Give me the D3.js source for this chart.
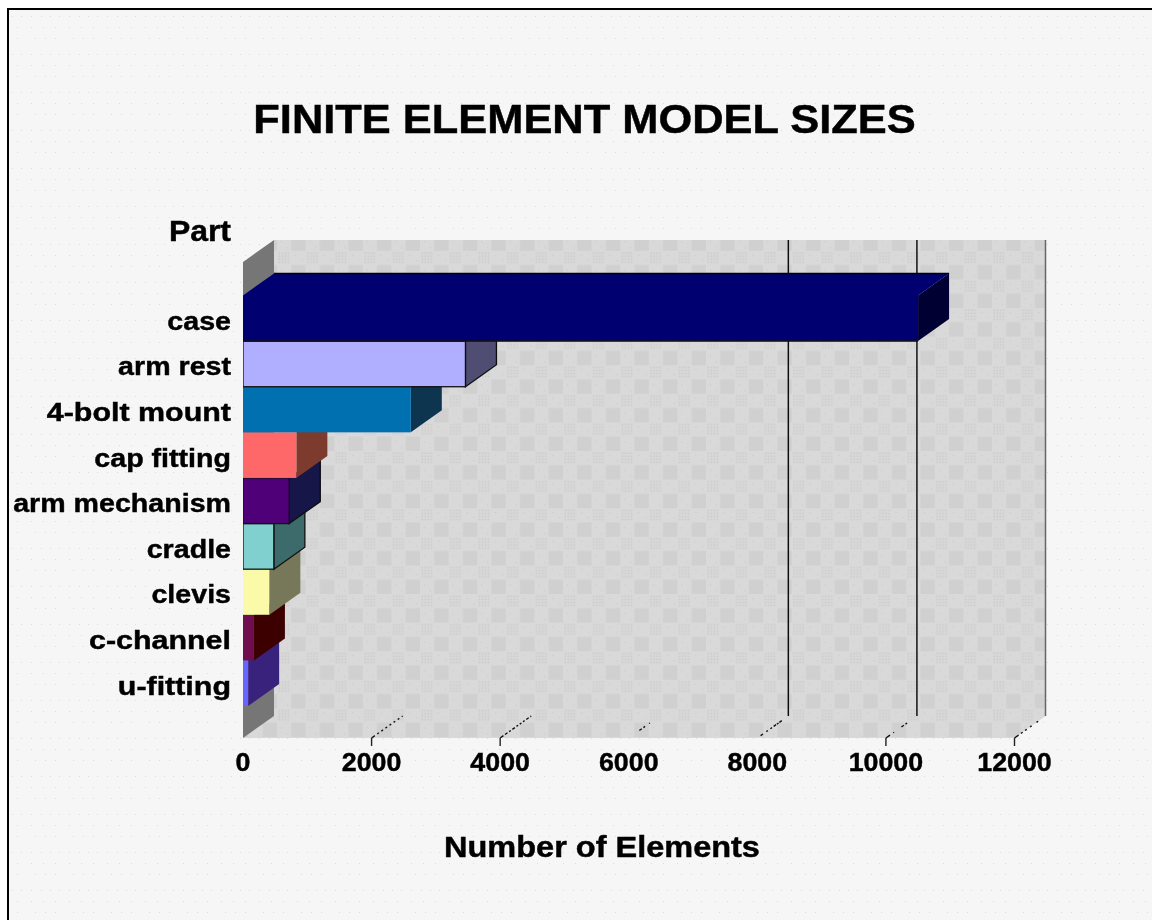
<!DOCTYPE html>
<html><head><meta charset="utf-8">
<style>html,body{margin:0;padding:0;background:#fff}svg{display:block}text{font-family:"Liberation Sans",Arial,sans-serif;font-weight:700;fill:#000;stroke:#000;stroke-width:.45px}</style>
<script src="https://cdn.jsdelivr.net/npm/d3@7/dist/d3.min.js"></script>
</head><body><script>
const parts=["case","arm rest","4-bolt mount","cap fitting","arm mechanism","cradle","clevis","c-channel","u-fitting"];
const elements=[10500,3460,2610,830,720,480,410,170,80];
const frontColors=["#000070","#b0aeff","#0070b0","#ff6868","#500078","#80d0d0","#fafaa8","#70104f","#6666ff"];
const sideColors=["#000030","#4f4e72","#0b3550","#7d3a2e","#14124a","#3d6a6a","#77775a","#3d0505","#38207c"];
const outlinedParts=["arm rest","arm mechanism","cradle"];
const xTicks=[0,2000,4000,6000,8000,10000,12000];
const tickMarks=[2000,4000,10000,12000];
const wallLines=[8000,10000];
const floorLines=[2000,4000,6000,8000,10000,12000];
const floorDashes=["4 3 2 3 2 3 2 3 2 3 2 3 2 3 3 40","4 2 3 2 2 2 3 2 2 2 2 2 2 2 3 2 3 40","0 13 3 2 2 5 1 40","0 4 3 4 2 3 2 2 3 1 2 1 3 40","5 4 1 9 3 2 2 40","5 3 2 3 2 4 2 6 2 40"];

const W=1152,H=920;
const svg=d3.select("body").append("svg").attr("width",W).attr("height",H);
const defs=svg.append("defs");
defs.append("filter").attr("id","soft").attr("filterUnits","userSpaceOnUse").attr("x",0).attr("y",0).attr("width",W).attr("height",H)
  .append("feGaussianBlur").attr("stdDeviation",0.45);
const x=d3.scaleLinear().domain([0,12000]).range([243,1014.5]);
const y=d3.scaleBand().domain(parts).range([295.5,706]);
const dx=31,dy=-22,floorY=738,wallTop=240;

const pd=defs.append("pattern").attr("id","paper").attr("patternUnits","userSpaceOnUse").attr("width",38).attr("height",38).attr("x",22).attr("y",46);
pd.append("rect").attr("width",38).attr("height",38).attr("fill","#f6f6f6");
[[9,8],[19,8],[28,8],[37,8],[9,19],[21,19],[33,19],[13,30],[23,30],[33,30]].forEach(p=>pd.append("rect").attr("x",p[0]).attr("y",p[1]).attr("width",1).attr("height",1).attr("fill","#dcdcdc"));

const pw=defs.append("pattern").attr("id","wall").attr("patternUnits","userSpaceOnUse").attr("width",28.6).attr("height",28.6).attr("x",563).attr("y",451);
pw.append("rect").attr("width",28.6).attr("height",28.6).attr("fill","#d9d9d9");
pw.append("rect").attr("x",14.3).attr("y",14.3).attr("width",14.3).attr("height",14.3).attr("fill","#d0d0d0");
for(let i=0;i<4;i++)for(let j=0;j<4;j++)pw.append("rect").attr("x",1.5+i*3).attr("y",1.5+j*3).attr("width",1.6).attr("height",1.6).attr("fill","#cbcbcb");
[[18,4],[25,9],[4,19],[10,25]].forEach(p=>pw.append("rect").attr("x",p[0]).attr("y",p[1]).attr("width",1).attr("height",1).attr("fill","#c6c6c6"));

const root=svg.append("g").attr("filter","url(#soft)");
root.append("rect").attr("width",W).attr("height",H).attr("fill","#fff");
root.append("rect").attr("x",8).attr("y",9).attr("width",W).attr("height",H).attr("fill","url(#paper)").attr("stroke","#000").attr("stroke-width",2);

const g=root.append("g");
const poly=(pts,f,s)=>g.append("polygon").attr("points",pts.map(p=>p.join(",")).join(" ")).attr("fill",f).attr("stroke",s||"none").attr("stroke-width",1.3);
const backR=x(12000)+dx, x0=x(0);
poly([[x0+dx,wallTop],[backR,wallTop],[backR,floorY+dy],[x(12000),floorY],[x0,floorY],[x0,floorY+dy]],"url(#wall)");
poly([[x0,wallTop-dy],[x0+dx,wallTop],[x0+dx,floorY+dy],[x0,floorY]],"#767676");
g.selectAll("line.wall").data(wallLines).join("line").attr("class","wall")
 .attr("x1",d=>x(d)+dx).attr("x2",d=>x(d)+dx).attr("y1",wallTop).attr("y2",floorY+dy).attr("stroke","#111").attr("stroke-width",1.5);
g.append("line").attr("x1",backR).attr("x2",backR).attr("y1",wallTop).attr("y2",floorY+dy).attr("stroke","#666").attr("stroke-width",1.5);
g.selectAll("line.floor").data(floorLines).join("line").attr("class","floor")
 .attr("x1",d=>x(d)).attr("x2",d=>x(d)+dx).attr("y1",floorY).attr("y2",floorY+dy)
 .attr("stroke","#111").attr("stroke-width",1.4).attr("stroke-dasharray",(d,i)=>floorDashes[i]);
g.selectAll("line.tick").data(tickMarks).join("line").attr("class","tick")
 .attr("x1",d=>x(d)).attr("x2",d=>x(d)).attr("y1",floorY).attr("y2",floorY+8).attr("stroke","#222").attr("stroke-width",1.4);

const rows=parts.map((p,i)=>({p,v:elements[i],f:frontColors[i],s:sideColors[i]}));
rows.slice().reverse().forEach(r=>{
  const x1=x(r.v),t=y(r.p),b=t+y.bandwidth();
  const st=outlinedParts.includes(r.p)?"#111":null;
  poly([[x1,t],[x1+dx,t+dy],[x1+dx,b+dy],[x1,b]],r.s,st);
  g.append("rect").attr("x",x0).attr("y",t).attr("width",x1-x0).attr("height",b-t).attr("fill",r.f)
   .attr("stroke",st||"none").attr("stroke-width",1.3);
  if(r.p===parts[0]) poly([[x0,t+2],[x0,t],[x0+dx,t+dy],[x1+dx,t+dy],[x1,t],[x1,t+2]],r.f);
});
const caseT=y(parts[0]),caseB=caseT+y.bandwidth();
g.append("line").attr("x1",x0+dx).attr("x2",x(elements[0])+dx).attr("y1",caseT+dy).attr("y2",caseT+dy).attr("stroke","#000").attr("stroke-width",1.5);
g.append("line").attr("x1",x0).attr("x2",x(elements[0])).attr("y1",caseB).attr("y2",caseB).attr("stroke","#111").attr("stroke-width",1.5);
g.append("rect").attr("x",x0-3).attr("y",caseT).attr("width",3).attr("height",y.range()[1]-caseT+2).attr("fill","#f6f6f6");

const lab=root.append("g");
const widen=(sel,k)=>sel.each(function(d){const n=this.getComputedTextLength();const f=typeof k==="function"?k(d):k;d3.select(this).attr("textLength",n*f).attr("lengthAdjust","spacingAndGlyphs");});
widen(lab.append("text").attr("x",584.5).attr("y",133).attr("text-anchor","middle").attr("font-size",40).text("FINITE ELEMENT MODEL SIZES"),1.085);
widen(lab.append("text").attr("x",231).attr("y",241).attr("text-anchor","end").attr("font-size",29).text("Part"),1.1);
widen(lab.selectAll("text.cat").data(parts).join("text").attr("class","cat").attr("x",231)
 .attr("y",d=>y(d)+y.bandwidth()/2+11.5).attr("text-anchor","end").attr("font-size",26).text(d=>d),d=>d.includes("-")?1.17:1.1);
widen(lab.selectAll("text.xt").data(xTicks).join("text").attr("class","xt").attr("x",d=>x(d)).attr("y",771).attr("text-anchor","middle").attr("font-size",26).text(d=>d),1.03);
widen(lab.append("text").attr("x",602).attr("y",857).attr("text-anchor","middle").attr("font-size",29).text("Number of Elements"),1.12);
</script></body></html>
